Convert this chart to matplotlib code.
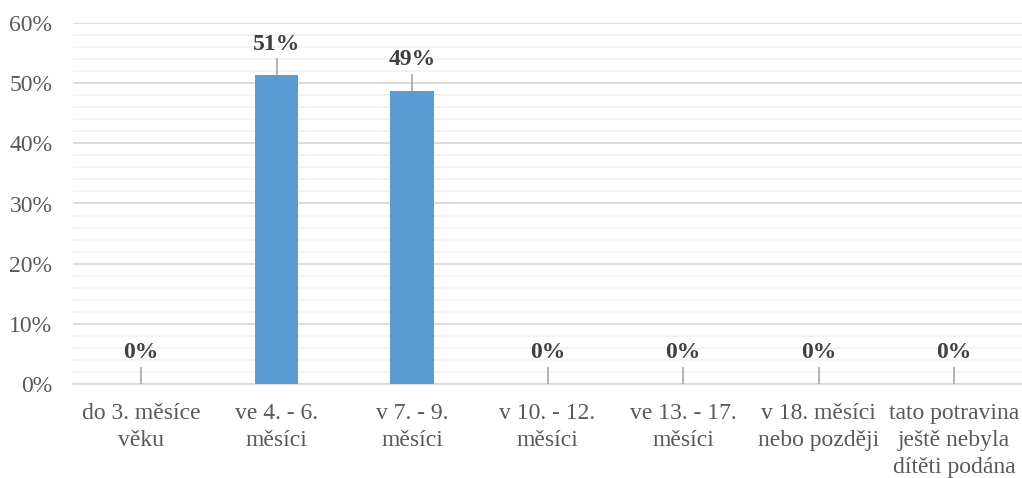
import numpy as np
import matplotlib
matplotlib.use("Agg")
import matplotlib.pyplot as plt
from matplotlib.ticker import MultipleLocator, PercentFormatter

# data
categories = [
    "do 3. měsíce\nvěku",
    "ve 4. - 6.\nměsíci",
    "v 7. - 9.\nměsíci",
    "v 10. - 12.\nměsíci",
    "ve 13. - 17.\nměsíci",
    "v 18. měsíci\nnebo později",
    "tato potravina\nještě nebyla\ndítěti podána",
]
shares = [0.0, 51.3, 48.7, 0.0, 0.0, 0.0, 0.0]
labels = ["0%", "51%", "49%", "0%", "0%", "0%", "0%"]

plt.rcParams["font.family"] = ["Liberation Serif", "DejaVu Serif"]

text_grey = "#595959"
bar_blue = "#5B9BD5"

fig = plt.figure(figsize=(10.22, 4.78), dpi=100)
ax = fig.add_axes([73.25 / 1022, 1 - 384 / 478, 948.5 / 1022, 361 / 478])

x = np.arange(len(categories))
ax.bar(x, shares, width=0.32, color=bar_blue, zorder=3)

# leader lines and bold value labels
for xi, v, lab in zip(x, shares, labels):
    ax.vlines(xi, v, v + 2.8, color="#A6A6A6", linewidth=1.2, zorder=4)
    ax.text(xi, v + 5.2, lab, ha="center", va="center", fontsize=17,
            fontweight="bold", color="#404040", zorder=5)

ax.set_xlim(-0.5, len(categories) - 0.5)
ax.set_ylim(0, 60)
ax.yaxis.set_major_locator(MultipleLocator(10))
ax.yaxis.set_minor_locator(MultipleLocator(2))
ax.yaxis.set_major_formatter(PercentFormatter(decimals=0))

ax.grid(axis="y", which="major", color="#D9D9D9", linewidth=1.3, zorder=0)
ax.grid(axis="y", which="minor", color="#F2F2F2", linewidth=1.3, zorder=0)
ax.set_axisbelow(True)

for side in ["top", "right", "left"]:
    ax.spines[side].set_visible(False)
ax.spines["bottom"].set_color("#D9D9D9")
ax.spines["bottom"].set_linewidth(1.3)

ax.set_xticks(x)
ax.set_xticklabels(categories, fontsize=17, color=text_grey, linespacing=1.35)
ax.tick_params(axis="x", length=0, pad=14)
ax.tick_params(axis="y", which="both", length=0, labelsize=17,
               labelcolor=text_grey, pad=15)

fig.savefig("out.png", dpi=100)
